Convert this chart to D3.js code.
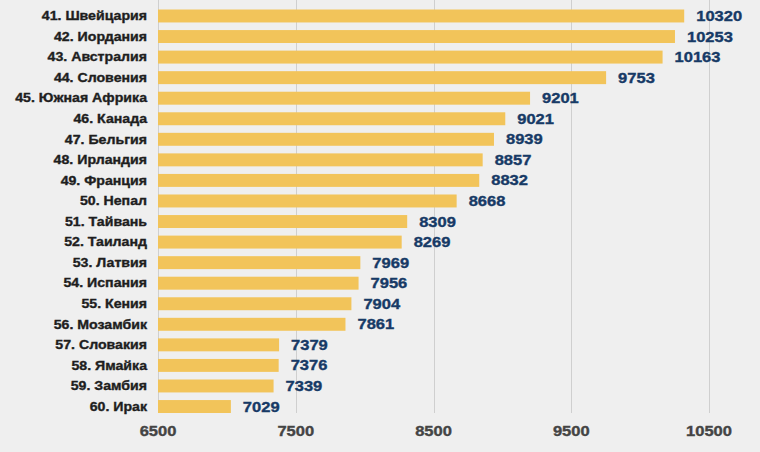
<!DOCTYPE html>
<html>
<head>
<meta charset="utf-8">
<script src="https://cdn.jsdelivr.net/npm/d3@7"></script>
<style>
html,body{margin:0;padding:0;background:#efefef;}
svg{display:block;}
</style>
</head>
<body>
<svg id="chart" width="760" height="452"></svg>
<script>
const categories = ["41. Швейцария","42. Иордания","43. Австралия","44. Словения","45. Южная Африка","46. Канада","47. Бельгия","48. Ирландия","49. Франция","50. Непал","51. Тайвань","52. Таиланд","53. Латвия","54. Испания","55. Кения","56. Мозамбик","57. Словакия","58. Ямайка","59. Замбия","60. Ирак"];
const values = [10320,10253,10163,9753,9201,9021,8939,8857,8832,8668,8309,8269,7969,7956,7904,7861,7379,7376,7339,7029];
const tickValues = [6500,7500,8500,9500,10500];

const svg = d3.select("#chart");
svg.append("rect").attr("width",760).attr("height",452).attr("fill","#efefef");

const x = d3.scaleLinear().domain([6500,10500]).range([158,709]);
const y = d3.scaleBand().domain(categories).range([5.7,416.8]).paddingInner(0.37).paddingOuter(0.185);
const sx = 1.18;
const font = "'Liberation Sans', Arial, sans-serif";

// gridlines
svg.append("g").selectAll("line").data(tickValues).join("line")
  .attr("x1",d=>Math.round(x(d))+0.5).attr("x2",d=>Math.round(x(d))+0.5)
  .attr("y1",0).attr("y2",413)
  .attr("stroke","#cfcfcf").attr("stroke-width",1);

// bars
svg.append("g").selectAll("rect").data(values).join("rect")
  .attr("x",x(6500))
  .attr("y",(d,i)=>y(categories[i]))
  .attr("width",d=>x(d)-x(6500))
  .attr("height",y.bandwidth())
  .attr("fill","#f2c45a");

// category labels
svg.append("g").selectAll("text").data(categories).join("text")
  .attr("transform",d=>`translate(147,${y(d)+y.bandwidth()/2+4.3}) scale(${sx},1)`)
  .attr("text-anchor","end")
  .attr("font-family",font).attr("font-weight","bold").attr("font-size",12)
  .attr("fill","#1e1e1e").attr("stroke","#1e1e1e").attr("stroke-width",0.35)
  .text(d=>d);

// value labels
svg.append("g").selectAll("text").data(values).join("text")
  .attr("transform",(d,i)=>`translate(${x(d)+12},${y(categories[i])+y.bandwidth()/2+5}) scale(${sx},1)`)
  .attr("text-anchor","start")
  .attr("font-family",font).attr("font-weight","bold").attr("font-size",14)
  .attr("fill","#173a66").attr("stroke","#173a66").attr("stroke-width",0.35)
  .text(d=>d);

// axis tick labels
svg.append("g").selectAll("text").data(tickValues).join("text")
  .attr("transform",d=>`translate(${x(d)},435.5) scale(${sx},1)`)
  .attr("text-anchor","middle")
  .attr("font-family",font).attr("font-weight","bold").attr("font-size",14)
  .attr("fill","#444444").attr("stroke","#444444").attr("stroke-width",0.35)
  .text(d=>d);
</script>
</body>
</html>
